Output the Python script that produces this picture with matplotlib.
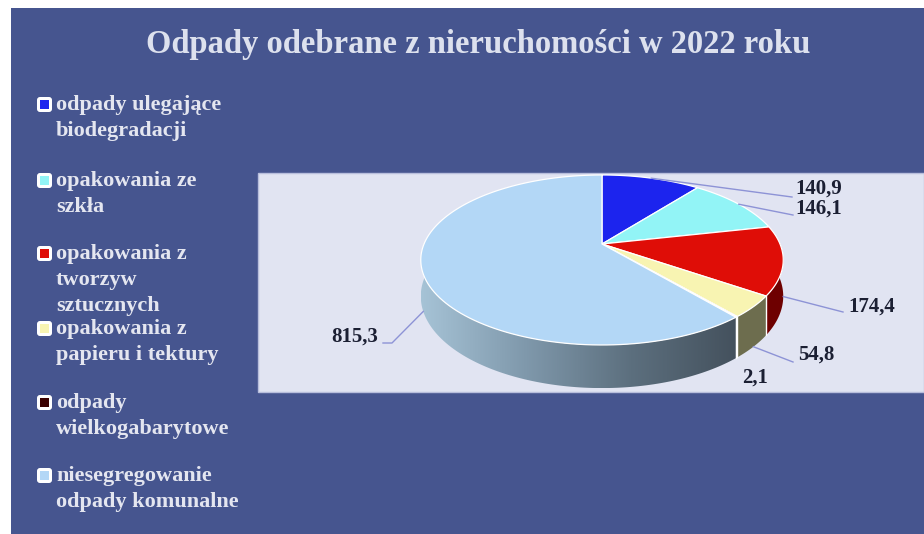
import numpy as np
import matplotlib.pyplot as plt
from matplotlib.patches import Polygon, Rectangle, FancyBboxPatch
from matplotlib.colors import LinearSegmentedColormap

# --- data ---
title = "Odpady odebrane z nieruchomości w 2022 roku"
categories = [
    "odpady ulegające\nbiodegradacji",
    "opakowania ze\nszkła",
    "opakowania z\ntworzyw\nsztucznych",
    "opakowania z\npapieru i tektury",
    "odpady\nwielkogabarytowe",
    "niesegregowanie\nodpady komunalne",
]
values = [140.9, 146.1, 174.4, 54.8, 2.1, 815.3]
value_labels = ["140,9", "146,1", "174,4", "54,8", "2,1", "815,3"]

# --- styles ---
top_colors = ["#1c24ee", "#92f4f6", "#df0d07", "#f8f4b2", "#3b0000", "#b3d7f6"]
side_colors = ["#10168a", "#5a9ea0", "#6e0000", "#6d6d4e", "#2a0000", None]
BG = "#46558f"
PANEL = "#e1e4f2"
SERIF = ["Liberation Serif", "DejaVu Serif"]

# pie geometry (pixels), simple perspective projection
CX, CY = 602, 244
S, SY, K, DEPTH = 178, 82, 0.188, 35


def proj(theta, f=0.0):
    t = np.radians(theta)
    den = 1 + K * np.sin(t)
    x = CX + S * np.cos(t) / den
    y = CY - SY * np.sin(t) / den + f * DEPTH / den
    return x, y


def arc(a, b, f=0.0, n=120):
    th = np.linspace(a, b, n)
    return np.column_stack(proj(th, f))


fig = plt.figure(figsize=(9.24, 5.34), dpi=100)
ax = fig.add_axes([0, 0, 1, 1])
fig.patch.set_facecolor("white")

ax.add_patch(Rectangle((11, 8), 913, 526, facecolor=BG, edgecolor="none"))
ax.add_patch(Rectangle((258, 173), 666, 219, facecolor=PANEL,
                       edgecolor="#b8bedc", linewidth=1))

ax.text(478, 45, title, ha="center", va="center", fontsize=23.5,
        fontweight="bold", color="#dde1ee", family=SERIF)

# angles: start at 12 o'clock, clockwise
total = sum(values)
cum = np.concatenate([[0], np.cumsum(values)])
bounds = 90 - 360 * cum / total

# sides (front only)
for i in range(len(values)):
    a, b = bounds[i], bounds[i + 1]
    hi, lo = min(a, 0), max(b, -180)
    if lo >= hi:
        continue
    pts = np.vstack([arc(hi, lo, 0), arc(lo, hi, 1)])
    if side_colors[i] is None:
        poly = Polygon(pts, closed=True, facecolor="none", edgecolor="none")
        ax.add_patch(poly)
        grad = np.linspace(0, 1, 256).reshape(1, -1)
        cmap = LinearSegmentedColormap.from_list(
            "side", ["#a6c3d6", "#7f98ab", "#5c6f7e", "#44515d"])
        im = ax.imshow(grad, extent=[pts[:, 0].min(), pts[:, 0].max(),
                                     pts[:, 1].max(), pts[:, 1].min()],
                       cmap=cmap, aspect="auto", zorder=1)
        im.set_clip_path(poly)
    else:
        ax.add_patch(Polygon(pts, closed=True, facecolor=side_colors[i],
                             edgecolor="none", zorder=1))

# white separators on the side
for bnd in bounds[1:-1]:
    if -180 < bnd < 0:
        x0, y0 = proj(bnd, 0)
        x1, y1 = proj(bnd, 1)
        ax.plot([x0, x1], [y0, y1], color="white", lw=1, zorder=2)

# top surface
for i in range(len(values)):
    a, b = bounds[i], bounds[i + 1]
    pts = np.vstack([[CX, CY], arc(a, b, 0)])
    ax.add_patch(Polygon(pts, closed=True, facecolor=top_colors[i],
                         edgecolor="white", linewidth=0.9, zorder=3))

# data labels with leader lines
mids = (bounds[:-1] + bounds[1:]) / 2
anchor_f = [0, 0, 1, 1, None, 1]
label_xy = [(795, 189), (795, 209), (848, 307), (798, 355), (742, 378), (378, 337)]
label_ha = ["left", "left", "left", "left", "left", "right"]
line_end = [[(792, 197)], [(793, 215)], [(843, 312)], [(793, 362)], None,
            [(392, 343), (383, 343)]]
for i in range(len(values)):
    lx, ly = label_xy[i]
    ax.text(lx, ly, value_labels[i], ha=label_ha[i], va="center", fontsize=15,
            fontweight="bold", color="#1b1f33", family=SERIF, zorder=5)
    if anchor_f[i] is None:
        continue
    sx, sy = proj(mids[i], anchor_f[i])
    xs = [sx] + [p[0] for p in line_end[i]]
    ys = [sy] + [p[1] for p in line_end[i]]
    ax.plot(xs, ys, color="#8d93d6", lw=1, zorder=4)

# legend
legend_y = [105, 181, 254, 329, 403, 476]
for i, cat in enumerate(categories):
    y = legend_y[i]
    ax.add_patch(FancyBboxPatch((37, y - 8), 15, 15,
                                boxstyle="round,pad=0,rounding_size=3",
                                facecolor="white", edgecolor="none"))
    ax.add_patch(Rectangle((40, y - 5), 9, 9, facecolor=top_colors[i],
                           edgecolor="none"))
    for j, line in enumerate(cat.split("\n")):
        ax.text(56, y + j * 26, line, ha="left", va="center", fontsize=16,
                fontweight="bold", color="#e4e6f0", family=SERIF)

ax.set_xlim(0, 924)
ax.set_ylim(534, 0)
ax.axis("off")
fig.savefig("out.png", dpi=100)
